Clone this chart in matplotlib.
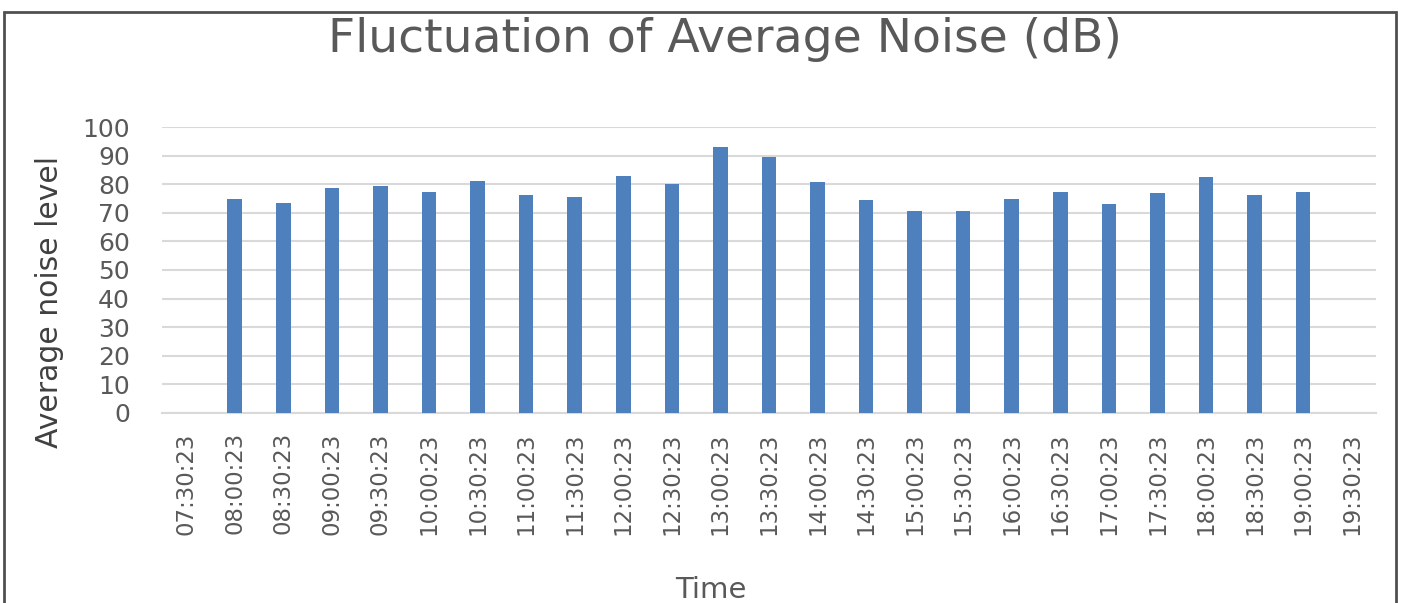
"""
Bar chart of average noise level over the day.
"""

import matplotlib

matplotlib.use("Agg")

import matplotlib.pyplot as plt
import numpy as np
from matplotlib.patches import Rectangle


TIMES = [
    "07:30:23", "08:00:23", "08:30:23", "09:00:23", "09:30:23",
    "10:00:23", "10:30:23", "11:00:23", "11:30:23", "12:00:23",
    "12:30:23", "13:00:23", "13:30:23", "14:00:23", "14:30:23",
    "15:00:23", "15:30:23", "16:00:23", "16:30:23", "17:00:23",
    "17:30:23", "18:00:23", "18:30:23", "19:00:23", "19:30:23",
]
# first and last time slots have no measurement
NOISE_DB = [
    np.nan, 75.0, 73.6, 78.6, 79.3,
    77.5, 81.2, 76.2, 75.6, 83.1,
    80.0, 93.2, 89.5, 80.7, 74.4,
    70.7, 70.7, 74.9, 77.5, 73.0,
    76.9, 82.5, 76.2, 77.5, np.nan,
]
Y_TICKS = list(range(0, 101, 10))

BAR_COLOR = "#4E80BD"
TEXT_COLOR = "#595959"
GRID_COLOR = "#D9D9D9"

plt.rcParams["font.family"] = ["DejaVu Sans"]

fig = plt.figure(figsize=(14.07, 6.03), dpi=100)
ax = fig.add_axes([0.115, 0.3156, 0.863, 0.4733])

x = np.arange(len(TIMES))
ax.bar(x, NOISE_DB, width=0.3, color=BAR_COLOR, zorder=3)

ax.set_xlim(-0.5, len(TIMES) - 0.5)
ax.set_ylim(0, 100)
ax.set_yticks(Y_TICKS)
ax.set_xticks(x)
ax.set_xticklabels(TIMES, rotation=90, fontsize=16.5, color=TEXT_COLOR)
ax.tick_params(axis="y", labelsize=18, labelcolor=TEXT_COLOR, length=0, pad=23)
ax.tick_params(axis="x", length=0, pad=14)

ax.grid(axis="y", color=GRID_COLOR, linewidth=1.5, zorder=0)
for side in ["top", "right", "left"]:
    ax.spines[side].set_visible(False)
ax.spines["bottom"].set_color(GRID_COLOR)
ax.spines["bottom"].set_linewidth(1.5)

fig.text(0.035, 0.499, "Average noise level", fontsize=21.5, color="#404040",
         rotation=90, ha="center", va="center")
fig.text(0.505, 0.021, "Time", fontsize=21, color=TEXT_COLOR, ha="center", va="center")

fig.text(0.515, 0.935, "Fluctuation of Average Noise (dB)", fontsize=34,
         color=TEXT_COLOR, ha="center", va="center")

# outer chart frame
fig.patches.append(Rectangle((0.003, -0.05), 0.989, 1.03, transform=fig.transFigure,
                             fill=False, edgecolor="#505050", linewidth=2))

fig.savefig("out.png", dpi=100)
plt.close(fig)
